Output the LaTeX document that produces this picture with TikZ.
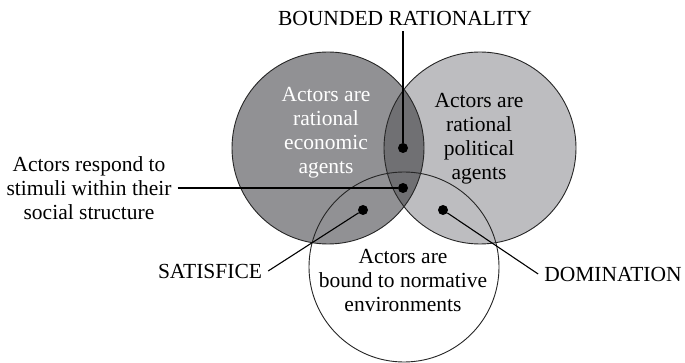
\documentclass[tikz,border=0pt]{standalone}
\usepackage{fontspec}
\setmainfont{Liberation Serif}
\definecolor{econgray}{RGB}{145,145,148}
\definecolor{polgray}{RGB}{189,189,192}
\definecolor{overgray}{RGB}{112,112,115}

\begin{document}
\begin{tikzpicture}[x=1pt,y=-1pt]
    \tikzstyle{dot}=[circle, fill=black, minimum size=10pt, inner sep=0pt]
    \tikzstyle{txt}=[align=center, font=\fontsize{21.5}{24}\selectfont, inner sep=6pt]
    \tikzstyle{ring}=[draw=black!85, line width=0.9pt]
    \tikzstyle{lead}=[line width=1.7pt]
    \tikzstyle{slant}=[line width=1.1pt]

    \useasboundingbox (0,0) rectangle (685,363);
    \fill[white] (0,0) rectangle (685,363);

    % the three circles
    \fill[econgray] (328,148) circle (96pt);
    \fill[polgray] (480,148) circle (96pt);
    \begin{scope}
      \clip (328,148) circle (96pt);
      \fill[overgray] (480,148) circle (96pt);
    \end{scope}
    \draw[ring] (328,148) circle (96pt);
    \draw[ring] (480,148) circle (96pt);
    \draw[ring] (404,267) circle (95pt);

    \node[txt, text=white] (econ) at (326,133) {Actors are\\rational\\economic\\agents};
    \node[txt] (pol) at (479,139) {Actors are\\rational\\political\\agents};
    \node[txt] (norm) at (403,281) {Actors are\\bound to normative\\environments};

    \node[txt] (bound) at (405,18) {BOUNDED RATIONALITY};
    \node[txt] (resp) at (89,188) {Actors respond to\\stimuli within their\\social structure};
    \node[txt] (sat) at (210,271) {SATISFICE};
    \node[txt] (dom) at (613,274) {DOMINATION};

    \node[dot] (d1) at (403,148) {};
    \node[dot] (d2) at (403,188) {};
    \node[dot] (d3) at (363,210) {};
    \node[dot] (d4) at (443,210) {};

    \draw[lead] (d1 |- bound.south) -- (d1);
    \draw[lead] (resp.east) -- (d2);
    \draw[slant] (sat.east) -- (d3);
    \draw[slant] (dom.west) -- (d4);

\end{tikzpicture}
\end{document}
